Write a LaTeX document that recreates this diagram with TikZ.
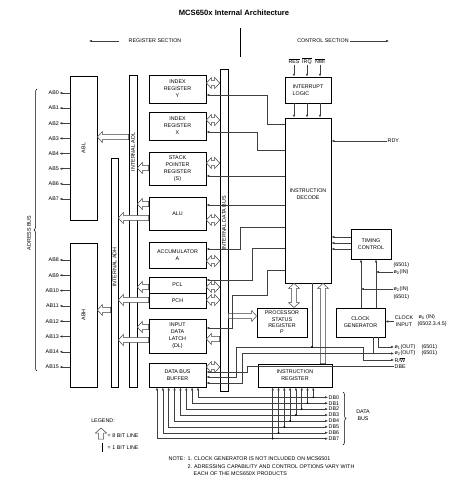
\documentclass[tikz,border=0pt]{standalone}
\usepackage{fontspec}
\setmainfont{Liberation Sans}
\usetikzlibrary{arrows.meta,calc,decorations.pathreplacing}

\newcommand{\sm}{\fontsize{5.35}{7}\selectfont}
\newcommand{\ovl}[1]{$\overline{\hbox{#1}}$}

\tikzset{
  >={Latex[length=2.8pt,width=2.4pt]},
  blk/.style={draw, line width=0.9pt, align=center, font=\sm, inner sep=0pt},
  strip/.style={draw, line width=0.6pt, inner sep=0pt},
  lbl/.style={font=\sm, inner sep=0.5pt},
  ctl/.style={draw=black!75, line width=0.5pt, ->},
  hollow/.style={draw=black!75, line width=0.5pt, fill=white, to path={
      ($(\tikztotarget)!5pt!(\tikztostart)$) coordinate (hb)
      ($(\tikztostart)!2.6pt!90:(\tikztotarget)$)
      -- ($(hb)!2.6pt!-90:(\tikztostart)$) -- ($(hb)!5.5pt!-90:(\tikztostart)$)
      -- (\tikztotarget)
      -- ($(hb)!5.5pt!90:(\tikztostart)$) -- ($(hb)!2.6pt!90:(\tikztostart)$)
      -- ($(\tikztostart)!2.6pt!-90:(\tikztotarget)$) -- cycle}},
  bihollow/.style={draw=black!75, line width=0.5pt, fill=white, to path={
      ($(\tikztostart)!5pt!(\tikztotarget)$) coordinate (ha)
      ($(\tikztotarget)!5pt!(\tikztostart)$) coordinate (hb)
      (\tikztostart) -- ($(ha)!5.5pt!90:(\tikztotarget)$) -- ($(ha)!2.6pt!90:(\tikztotarget)$)
      -- ($(hb)!2.6pt!-90:(\tikztostart)$) -- ($(hb)!5.5pt!-90:(\tikztostart)$)
      -- (\tikztotarget)
      -- ($(hb)!5.5pt!90:(\tikztostart)$) -- ($(hb)!2.6pt!90:(\tikztostart)$)
      -- ($(ha)!2.6pt!-90:(\tikztotarget)$) -- ($(ha)!5.5pt!-90:(\tikztotarget)$) -- cycle}},
}

\begin{document}
\begin{tikzpicture}[x=1pt, y=-1pt]
\useasboundingbox (0,0) rectangle (474,488);

% heading
\node[font=\bfseries\fontsize{7.6}{9}\selectfont] (title) at (234,13) {MCS650x Internal Architecture};
\coordinate (divtop) at (240,28);
\coordinate (divbot) at (240,57);
\draw[line width=0.6pt] (divtop) -- (divbot);
\node[lbl] (regsec) at (155,41) {REGISTER SECTION};
\node[lbl] (ctlsec) at (323,41) {CONTROL SECTION};
\coordinate (regend) at (89,41);
\coordinate (ctlend) at (389,41);
\draw[ctl] ([xshift=-9pt]regsec.west) -- (regend);
\draw[ctl] ([xshift=1pt]ctlsec.east) -- (ctlend);

% buses
\node[strip, minimum width=8pt, minimum height=312pt] (adl) at (133,231) {};
\node[lbl, rotate=90] (adllbl) at (133,152) {INTERNAL ADL};
\node[strip, minimum width=7pt, minimum height=229pt] (adh) at (114.5,272.5) {};
\node[lbl, rotate=90] (adhlbl) at (114.5,267) {INTERNAL ADH};
\node[strip, minimum width=8pt, minimum height=322pt] (idb) at (224,230) {};
\node[lbl, rotate=90] (idblbl) at (224,223) {INTERNAL DATA BUS};

% address latches
\node[blk, minimum width=27pt, minimum height=144pt] (abl) at (83.5,148) {};
\node[lbl, rotate=90] (abllbl) at (abl) {ABL};
\node[blk, minimum width=27pt, minimum height=144pt] (abh) at (83.5,315) {};
\node[lbl, rotate=90] (abhlbl) at (abh) {ABH};
\foreach \i in {0,...,7} {
  \node[lbl, anchor=east] (ab\i) at (59.5,93+15.14*\i) {AB\i};
  \draw[ctl] (abl.west |- ab\i.east) -- (ab\i.east);
}
\foreach \i in {8,...,15} {
  \node[lbl, anchor=east] (ab\i) at (59.5,260+15.3*\i-122.4) {AB\i};
  \draw[ctl] (abh.west |- ab\i.east) -- (ab\i.east);
}
\draw[decorate, decoration={brace, amplitude=3pt}, line width=0.5pt] (37,371) -- (37,89);
\node[lbl, rotate=90] (abus) at (29,233) {ADRESS BUS};

% registers
\node[blk, minimum width=57pt, minimum height=28pt] (yreg) at (177.5,89) {INDEX\\REGISTER\\Y};
\node[blk, minimum width=57pt, minimum height=28pt] (xreg) at (177.5,126) {INDEX\\REGISTER\\X};
\node[blk, minimum width=57pt, minimum height=33pt] (sreg) at (177.5,168.5) {STACK\\POINTER\\REGISTER\\(S)};
\node[blk, minimum width=57pt, minimum height=33pt] (alu) at (177.5,213.5) {ALU};
\node[blk, minimum width=57pt, minimum height=26pt] (acc) at (177.5,255) {ACCUMULATOR\\A};
\node[blk, minimum width=57pt, minimum height=16pt] (pcl) at (177.5,285) {PCL};
\node[blk, minimum width=57pt, minimum height=15pt] (pch) at (177.5,300.5) {PCH};
\node[blk, minimum width=57pt, minimum height=34pt] (dl) at (177.5,336) {INPUT\\DATA\\LATCH\\(DL)};
\node[blk, minimum width=57pt, minimum height=24pt] (dbb) at (177.5,375) {DATA BUS\\BUFFER};

% control section
\node[blk, minimum width=46pt, minimum height=26pt, align=left] (intl) at (308,90) {INTERRUPT\\LOGIC};
\node[blk, minimum width=46pt, minimum height=165pt] (dec) at (308,200.5) {};
\node[lbl, align=center] (declbl) at (308,194) {INSTRUCTION\\DECODE};
\node[blk, minimum width=40pt, minimum height=30pt] (tim) at (371,244) {TIMING\\CONTROL};
\node[blk, minimum width=49pt, minimum height=29pt] (clk) at (360.5,322.5) {CLOCK\\GENERATOR};
\node[blk, minimum width=50pt, minimum height=29pt, font=\fontsize{5.35}{6.4}\selectfont] (psr) at (282,322.5) {PROCESSOR\\STATUS\\REGISTER\\P};
\node[blk, minimum width=74pt, minimum height=23pt] (ir) at (295,375.5) {INSTRUCTION\\REGISTER};

% 8 bit lines
\draw[hollow] (adl.west |- 0,137) to (abl.east |- 0,137);
\draw[hollow] (adh.west |- 0,310) to (abh.east |- 0,310);
\draw[hollow] (sreg.west |- 0,168) to (adl.east |- 0,168);
\draw[hollow] (alu.west |- 0,204) to (adl.east |- 0,204);
\draw[hollow] (alu.west |- 0,218) to (adh.east |- 0,218);
\draw[hollow] (pcl.west |- 0,287) to (adl.east |- 0,287);
\draw[hollow] (pch.west |- 0,300) to (adh.east |- 0,300);
\draw[hollow] (dl.west |- 0,327) to (adl.east |- 0,327);
\draw[hollow] (dl.west |- 0,340) to (adh.east |- 0,340);
\foreach \r/\yy in {yreg/83, xreg/120, sreg/163, alu/220, acc/261, pcl/287, pch/300, dbb/367}
  \draw[bihollow] (\r.east |- 0,\yy) to (idb.west |- 0,\yy);
\draw[hollow] (idb.west |- 0,339) to (dl.east |- 0,339);
\draw[hollow] (idb.east |- 0,316) to (psr.west |- 0,316);
\draw[bihollow] (dec.south -| 294,0) to (psr.north -| 294,0);
\draw[hollow] (ir.north -| 323,0) to (dec.south -| 323,0);

% decode to registers
\draw[ctl] (dec.west |- 0,124) -| (267,95) -- (yreg.east |- 0,95);
\draw[ctl] (dec.west |- 0,150) -| (257,132) -- (xreg.east |- 0,132);
\draw[ctl] (dec.west |- 0,176) -- (sreg.east |- 0,176);
\draw[ctl] (dec.west |- 0,205) -- (alu.east |- 0,205);
\draw[ctl] (dec.west |- 0,227) -| (240,249) -- (acc.east |- 0,249);
\draw[ctl] (dec.west |- 0,248) -| (252,280) -- (pcl.east |- 0,280);
\draw[ctl] (dec.west |- 0,270) -| (267,295) -| (232,328) -- (dl.east |- 0,328);

% interrupts
\foreach \x/\n/\t in {294/ires/RES, 307/iirq/IRQ, 320/inmi/NMI} {
  \node[lbl] (\n) at (\x,61) {\ovl{\t}};
  \draw[ctl] (\n.south) -- (intl.north -| \n);
  \draw[ctl] (intl.south -| \n) -- (dec.north -| \n);
}
\node[lbl, anchor=west] (rdy) at (387,141) {RDY};
\draw[ctl] (rdy.west) -- (dec.east |- rdy.west);
\foreach \yy in {237,243,249}
  \draw[ctl] (tim.west |- 0,\yy) -- (dec.east |- 0,\yy);

% clock
\coordinate (ckl) at (361,300);
\coordinate (ckr) at (376,300);
\draw[ctl] (clk.north -| ckl) -- (tim.south -| ckl);
\draw[ctl] (clk.north -| ckr) -- (tim.south -| ckr);
\node[lbl, anchor=west] (p0v) at (393,265) {(6501)};
\node[lbl, anchor=west] (p0in) at (393,272) {ø\textsubscript{0}(IN)};
\node[lbl, anchor=west] (p2in) at (393,289) {ø\textsubscript{2}(IN)};
\node[lbl, anchor=west] (p2v) at (393,297) {(6501)};
\draw[ctl] (p0in.west) -- (p0in.west -| ckr);
\draw[ctl] (p2in.west) -- (p2in.west -| ckl);
\node[lbl, align=center] (clkin) at (404,321.5) {CLOCK\\INPUT};
\node[lbl, anchor=west] (p0clk) at (418,317.5) {ø\textsubscript{0} (IN)};
\node[lbl, anchor=west] (cvar) at (417,324.5) {(6502.3.4.5)};
\draw[ctl] (clkin.west) -- (clk.east |- clkin.west);

\node[lbl, anchor=west] (p1o) at (394,347) {ø\textsubscript{1}(OUT)};
\node[lbl, anchor=west] (p1v) at (421,347) {(6501)};
\node[lbl, anchor=west] (p2o) at (394,353.5) {ø\textsubscript{2}(OUT)};
\node[lbl, anchor=west] (p2v2) at (421,353.5) {(6501)};
\node[lbl, anchor=west] (rw) at (394,360) {R/\ovl{W}};
\node[lbl, anchor=west] (dbe) at (394,366.5) {DBE};
\draw[ctl] (clk.south -| 378,0) |- (p1o.west);
\draw[ctl] (clk.south -| 373,0) |- (p2o.west);
\coordinate (p2j) at (373,353.5);
\draw[ctl] (p2j) -| (242,383) -- (dbb.east |- 0,383);
\coordinate (rwj) at (312,347);
\draw[ctl] (dec.south -| rwj) -- (rwj) -| (363,360) -- (rw.west);
\draw[ctl] (rwj) -| (236,377) -- (dbb.east |- 0,377);
\fill (rwj) circle (1.1pt);
\draw[ctl] (dbe.west) -| (247,372) -- (dbb.east |- 0,372);

% data bus
\foreach \i in {0,...,7} {
  \pgfmathsetmacro\xa{198-5.86*\i}
  \pgfmathsetmacro\xb{313.3-5.8*\i}
  \pgfmathsetmacro\yb{397.3+5.91*\i}
  \node[lbl, anchor=west] (db\i) at (328,\yb) {DB\i};
  \coordinate (j\i) at (\xb,\yb);
  \draw[ctl, <->] (dbb.south -| \xa,0) |- (db\i.west);
  \draw[ctl] (j\i) -- (ir.south -| j\i);
  \fill (j\i) circle (1pt);
}
\draw[decorate, decoration={brace, amplitude=3pt}, line width=0.5pt] (343,392) -- (343,445);
\node[lbl, align=center] (dbus) at (363,415) {DATA\\BUS};

% legend
\node[lbl] (legend) at (103,421) {LEGEND:};
\coordinate (lg8a) at (101,439);
\coordinate (lg8b) at (101,428);
\draw[hollow] (lg8a) to (lg8b);
\node[lbl, anchor=west] (lg8) at (107,436) {= 8 BIT LINE};
\coordinate (lg1a) at (102,443);
\coordinate (lg1b) at (102,452);
\draw[line width=0.6pt] (lg1a) -- (lg1b);
\node[lbl, anchor=west] (lg1) at (107,447.5) {= 1 BIT LINE};

% notes
\node[lbl, anchor=west] (note) at (168,459) {NOTE:};
\node[lbl, anchor=west] (note1) at (187,459) {1. CLOCK GENERATOR IS NOT INCLUDED ON MCS6501};
\node[lbl, anchor=west] (note2) at (187,466.5) {2. ADRESSING CAPABILITY AND CONTROL OPTIONS VARY WITH};
\node[lbl, anchor=west] (note3) at (193,474) {EACH OF THE MCS650X PRODUCTS};
\end{tikzpicture}
\end{document}
